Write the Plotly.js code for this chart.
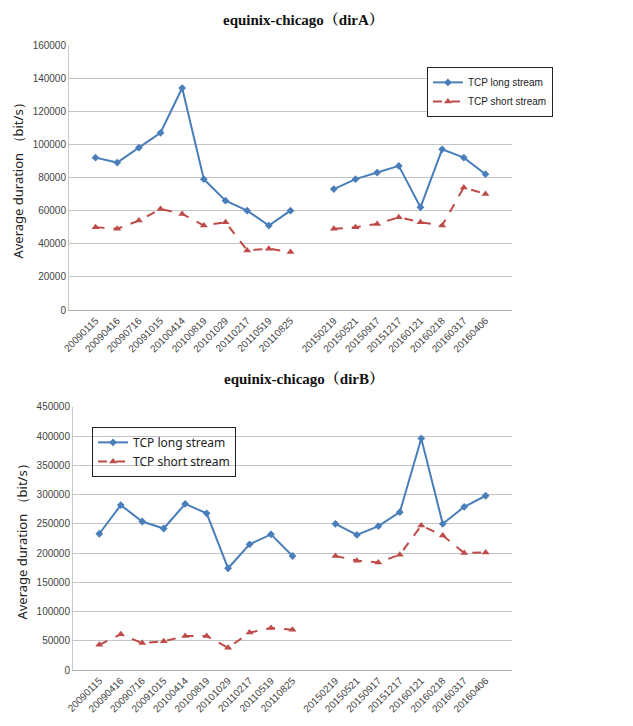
<!DOCTYPE html>
<html>
<head>
<meta charset="utf-8">
<script src="https://cdn.plot.ly/plotly-3.0.1.min.js"></script>
<style>html,body{margin:0;padding:0;background:#fff;}</style>
</head>
<body>
<div id="chart" style="width:633px;height:726px;"></div>
<script>
// Categories (blank slot between the two periods)
const categories = ["20090115","20090416","20090716","20091015","20100414","20100819","20101029","20110217","20110519","20110825"," ","20150219","20150521","20150917","20151217","20160121","20160218","20160317","20160406"];

// dirA series
const dirA_long  = [92000, 89000, 98000, 107000, 134000, 79000, 66000, 60000, 51000, 60000, null, 73000, 79000, 83000, 87000, 62000, 97000, 92000, 82000];
const dirA_short = [50000, 49000, 54000, 61000, 58000, 51000, 53000, 36000, 37000, 35000, null, 49000, 50000, 52000, 56000, 53000, 51000, 74000, 70000];

// dirB series
const dirB_long  = [233000, 282000, 254000, 242000, 284000, 268000, 174000, 215000, 232000, 195000, null, 250000, 231000, 246000, 270000, 396000, 250000, 279000, 298000];
const dirB_short = [43000, 61000, 46000, 49000, 58000, 58000, 38000, 64000, 72000, 69000, null, 195000, 187000, 184000, 197000, 247000, 230000, 200000, 201000];

const seriesNames = ["TCP long stream", "TCP short stream"];
const titles = ["equinix-chicago（dirA）", "equinix-chicago（dirB）"];
const yTitle = "Average duration （bit/s）";

const blue = "#4A7EBB", red = "#BE4B48";
const longStyle = {color: blue, width: 2};
const shortStyle = {color: red, width: 2, dash: "dash"};

const traces = [
  {x: categories, y: dirA_long, name: seriesNames[0], type: "scatter", mode: "lines+markers",
   line: longStyle, marker: {symbol: "diamond", size: 6, color: blue}, xaxis: "x", yaxis: "y", legend: "legend", connectgaps: false},
  {x: categories, y: dirA_short, name: seriesNames[1], type: "scatter", mode: "lines+markers",
   line: shortStyle, marker: {symbol: "triangle-up", size: 7, color: red}, xaxis: "x", yaxis: "y", legend: "legend", connectgaps: false},
  {x: categories, y: dirB_long, name: seriesNames[0], type: "scatter", mode: "lines+markers",
   line: longStyle, marker: {symbol: "diamond", size: 6, color: blue}, xaxis: "x2", yaxis: "y2", legend: "legend2", connectgaps: false},
  {x: categories, y: dirB_short, name: seriesNames[1], type: "scatter", mode: "lines+markers",
   line: shortStyle, marker: {symbol: "triangle-up", size: 7, color: red}, xaxis: "x2", yaxis: "y2", legend: "legend2", connectgaps: false}
];

const tickFont = {family: "Liberation Sans, Arial, sans-serif", size: 10, color: "#444"};
const xCommon = {
  type: "category", categoryorder: "array", categoryarray: categories,
  tickangle: -45, tickfont: tickFont, showgrid: false, showline: true, linecolor: "#b0b0b0", linewidth: 1,
  ticks: "", zeroline: false, fixedrange: true
};
const yCommon = {
  tickfont: tickFont, showgrid: true, gridcolor: "#c4c4c4", gridwidth: 1,
  showline: true, linecolor: "#c8c8c8", linewidth: 1, zeroline: false, ticks: "",
  tickformat: "d", separatethousands: false,
  title: {text: yTitle, font: {family: "Noto Sans, Liberation Sans, sans-serif", size: 13, color: "#222"}, standoff: 6}
};

const layout = {
  width: 633, height: 726,
  margin: {l: 69, r: 121, t: 45, b: 56},
  paper_bgcolor: "#fff", plot_bgcolor: "#fff",
  showlegend: true,
  xaxis: Object.assign({}, xCommon, {domain: [0, 1], anchor: "y"}),
  yaxis: Object.assign({}, yCommon, {domain: [0.576, 1], range: [0, 160000], dtick: 20000, anchor: "x"}),
  xaxis2: Object.assign({}, xCommon, {domain: [0.009, 1], anchor: "y2"}),
  yaxis2: Object.assign({}, yCommon, {domain: [0, 0.421], range: [0, 450000], dtick: 50000, anchor: "x2"}),
  legend: {x: 0.808, y: 0.965, xanchor: "left", yanchor: "top", bgcolor: "#fff",
    bordercolor: "#222", borderwidth: 1, font: {family: "Liberation Sans Narrow, Liberation Sans, sans-serif", size: 10, color: "#222"}},
  legend2: {x: 0.052, y: 0.389, xanchor: "left", yanchor: "top", bgcolor: "rgba(255,255,255,0)",
    bordercolor: "#222", borderwidth: 1, font: {family: "Noto Sans, Liberation Sans, sans-serif", size: 12, color: "#222"}},
  annotations: [
    {text: "<b>" + titles[0] + "</b>", xref: "paper", yref: "paper", x: 0.53, y: 1.04, xanchor: "center", yanchor: "middle",
     showarrow: false, font: {family: "Liberation Serif, Noto Serif CJK SC, serif", size: 15, color: "#111"}},
    {text: "<b>" + titles[1] + "</b>", xref: "paper", yref: "paper", x: 0.53, y: 0.4655, xanchor: "center", yanchor: "middle",
     showarrow: false, font: {family: "Liberation Serif, Noto Serif CJK SC, serif", size: 15, color: "#111"}}
  ]
};

Plotly.newPlot("chart", traces, layout, {staticPlot: true, displayModeBar: false});
</script>
</body>
</html>
